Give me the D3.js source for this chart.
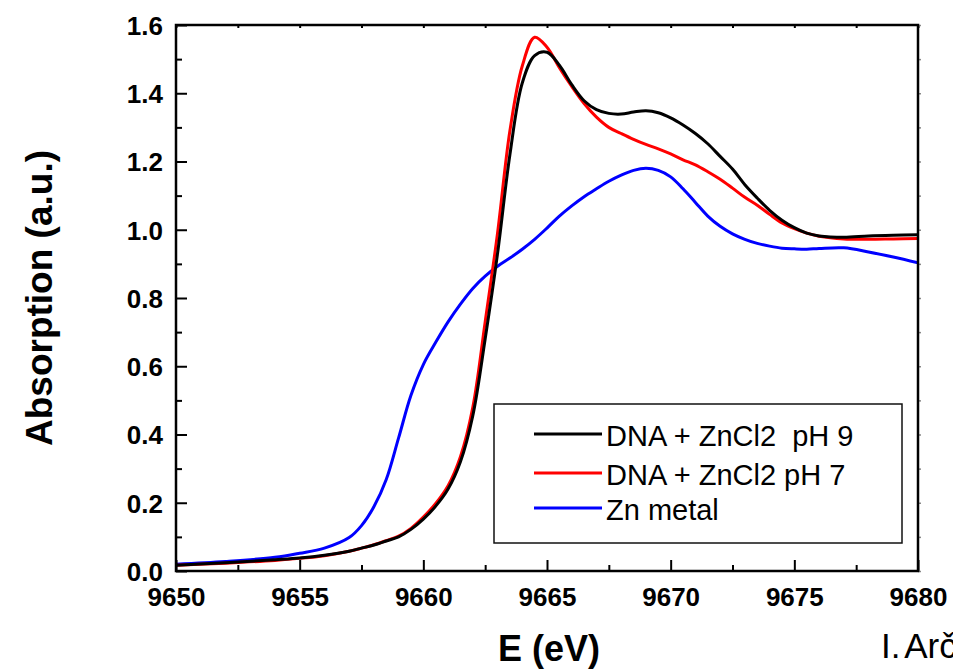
<!DOCTYPE html>
<html>
<head>
<meta charset="utf-8">
<script src="https://cdn.jsdelivr.net/npm/d3@7"></script>
<style>
  html, body { margin: 0; padding: 0; background: #fff; overflow: hidden; }
  svg { display: block; }
  text { font-family: "Liberation Sans", Arial, Helvetica, sans-serif; }
</style>
</head>
<body>
<svg id="chart" width="953" height="672"></svg>
<script>
// Zn K-edge XANES spectra
const energy = [9650, 9652, 9654, 9655, 9656, 9657, 9657.5, 9658, 9658.5, 9659, 9659.5,
  9660, 9660.5, 9661, 9661.5, 9662, 9662.5, 9663, 9663.5, 9664, 9664.5, 9665, 9665.5,
  9666, 9666.5, 9667, 9667.5, 9668, 9668.5, 9669, 9669.5, 9670, 9670.5, 9671, 9671.5,
  9672, 9672.5, 9673, 9673.5, 9674, 9674.5, 9675, 9675.5, 9676, 9677, 9678, 9679, 9680];

const dnaPH9 = [0.017, 0.024, 0.033, 0.038, 0.046, 0.058, 0.067, 0.076, 0.088, 0.100, 0.122,
  0.152, 0.190, 0.240, 0.320, 0.455, 0.680, 0.930, 1.220, 1.430, 1.510, 1.520, 1.482,
  1.425, 1.378, 1.352, 1.341, 1.339, 1.345, 1.349, 1.343, 1.328, 1.307, 1.282, 1.252,
  1.215, 1.178, 1.132, 1.093, 1.057, 1.028, 1.006, 0.990, 0.982, 0.978, 0.982, 0.984, 0.985];

const dnaPH7 = [0.017, 0.023, 0.031, 0.037, 0.045, 0.058, 0.067, 0.077, 0.089, 0.102, 0.125,
  0.158, 0.198, 0.250, 0.335, 0.480, 0.730, 0.990, 1.290, 1.480, 1.564, 1.535, 1.475,
  1.420, 1.370, 1.330, 1.300, 1.282, 1.265, 1.250, 1.237, 1.222, 1.205, 1.190, 1.170,
  1.148, 1.122, 1.095, 1.072, 1.045, 1.020, 1.003, 0.990, 0.981, 0.973, 0.972, 0.973, 0.974];

const znMetal = [0.020, 0.028, 0.040, 0.052, 0.067, 0.098, 0.133, 0.188, 0.268, 0.390, 0.515,
  0.605, 0.670, 0.730, 0.782, 0.828, 0.864, 0.893, 0.917, 0.943, 0.972, 1.005, 1.040,
  1.070, 1.097, 1.120, 1.142, 1.160, 1.174, 1.180, 1.174, 1.155, 1.120, 1.080, 1.040,
  1.010, 0.988, 0.972, 0.960, 0.952, 0.946, 0.944, 0.943, 0.945, 0.947, 0.935, 0.920, 0.903];

const seriesNames = ["DNA + ZnCl2  pH 9", "DNA + ZnCl2 pH 7", "Zn metal"];
const seriesColors = ["#000000", "#ff0000", "#0000ff"];

const xMajorTicks = [9650, 9655, 9660, 9665, 9670, 9675, 9680];
const xMinorTicks = [9652.5, 9657.5, 9662.5, 9667.5, 9672.5, 9677.5];
const yMajorTicks = [0.0, 0.2, 0.4, 0.6, 0.8, 1.0, 1.2, 1.4, 1.6];
const yMinorTicks = [0.1, 0.3, 0.5, 0.7, 0.9, 1.1, 1.3, 1.5];

const margin = { left: 176, right: 918, top: 25, bottom: 571 };

const svg = d3.select("#chart");
const x = d3.scaleLinear().domain([9650, 9680]).range([margin.left, margin.right]);
const y = d3.scaleLinear().domain([0, 1.6]).range([margin.bottom, margin.top]);

const seriesValues = [dnaPH9, dnaPH7, znMetal];

// clip to plotting area
svg.append("clipPath").attr("id", "plotClip")
  .append("rect")
  .attr("x", margin.left).attr("y", margin.top)
  .attr("width", margin.right - margin.left).attr("height", margin.bottom - margin.top);

const line = d3.line()
  .x(d => x(d[0]))
  .y(d => y(d[1]))
  .curve(d3.curveCatmullRom.alpha(0.5));

// draw Zn metal first, then pH 7, then pH 9 on top in the edge
const drawOrder = [2, 1, 0];
const curves = svg.append("g").attr("clip-path", "url(#plotClip)");
drawOrder.forEach(i => {
  curves.append("path")
    .datum(energy.map((e, k) => [e, seriesValues[i][k]]))
    .attr("fill", "none")
    .attr("stroke", seriesColors[i])
    .attr("stroke-width", 3)
    .attr("stroke-linejoin", "round")
    .attr("d", line);
});

// axes
const tickFont = { size: 26, weight: "bold" };

const xAxisG = svg.append("g").attr("transform", `translate(0,${margin.bottom})`);
xAxisG.call(d3.axisBottom(x).tickValues(xMajorTicks).tickSize(-11).tickSizeOuter(0)
  .tickFormat(d3.format("d")));
xAxisG.append("g").call(d3.axisBottom(x).tickValues(xMinorTicks).tickSize(-6).tickSizeOuter(0).tickFormat(""));
xAxisG.selectAll(".domain").remove();
xAxisG.selectAll("line").attr("stroke", "#000").attr("stroke-width", 2);
xAxisG.selectAll("text")
  .attr("y", 35).attr("dy", null)
  .attr("fill", "#000")
  .style("font-size", tickFont.size + "px")
  .style("font-weight", tickFont.weight)
  .style("font-family", '"Liberation Sans", Arial, sans-serif');

const yAxisG = svg.append("g").attr("transform", `translate(${margin.left},0)`);
yAxisG.call(d3.axisLeft(y).tickValues(yMajorTicks).tickSize(-11).tickSizeOuter(0)
  .tickFormat(d3.format(".1f")));
yAxisG.append("g").call(d3.axisLeft(y).tickValues(yMinorTicks).tickSize(-6).tickSizeOuter(0).tickFormat(""));
yAxisG.selectAll(".domain").remove();
yAxisG.selectAll("line").attr("stroke", "#000").attr("stroke-width", 2);
yAxisG.selectAll("text")
  .attr("x", -13).attr("dy", "0.36em")
  .attr("fill", "#000")
  .style("font-size", tickFont.size + "px")
  .style("font-weight", tickFont.weight)
  .style("font-family", '"Liberation Sans", Arial, sans-serif');

// top mirror ticks
const topG = svg.append("g").attr("transform", `translate(0,${margin.top})`);
topG.call(d3.axisTop(x).tickValues(xMajorTicks.concat(xMinorTicks)).tickSize(-3).tickSizeOuter(0).tickFormat(""));
topG.selectAll(".domain").remove();
topG.selectAll("line").attr("stroke", "#000").attr("stroke-width", 2);

// right mirror ticks
const rightG = svg.append("g").attr("transform", `translate(${margin.right},0)`);
rightG.call(d3.axisRight(y).tickValues(yMajorTicks.concat(yMinorTicks)).tickSize(3).tickSizeOuter(0).tickFormat(""));
rightG.selectAll(".domain").remove();
rightG.selectAll("line").attr("stroke", "#888").attr("stroke-width", 1.5);

// frame
svg.append("rect")
  .attr("x", margin.left).attr("y", margin.top)
  .attr("width", margin.right - margin.left).attr("height", margin.bottom - margin.top)
  .attr("fill", "none").attr("stroke", "#000").attr("stroke-width", 2.5);

// axis titles
svg.append("text")
  .attr("x", (margin.left + margin.right) / 2 + 2).attr("y", 661)
  .attr("text-anchor", "middle")
  .style("font-size", "36px").style("font-weight", "bold")
  .text("E (eV)");

svg.append("text")
  .attr("transform", `translate(52,${(margin.top + margin.bottom) / 2}) rotate(-90)`)
  .attr("text-anchor", "middle")
  .style("font-size", "37px").style("font-weight", "bold")
  .text("Absorption (a.u.)");

// legend
const legend = svg.append("g");
legend.append("rect")
  .attr("x", 494).attr("y", 404).attr("width", 408).attr("height", 139)
  .attr("fill", "#fff").attr("stroke", "#111").attr("stroke-width", 1.5);
const legendRows = [434, 473, 508];
seriesNames.forEach((name, i) => {
  legend.append("line")
    .attr("x1", 534).attr("x2", 602)
    .attr("y1", legendRows[i]).attr("y2", legendRows[i])
    .attr("stroke", seriesColors[i]).attr("stroke-width", 3);
  legend.append("text")
    .attr("x", 606).attr("y", legendRows[i] + 12)
    .style("font-size", "29px")
    .style("white-space", "pre")
    .attr("xml:space", "preserve")
    .text(name);
});

// author credit
svg.append("text")
  .attr("x", 881).attr("y", 658)
  .style("font-size", "35px")
  .style("word-spacing", "-4px")
  .text("I. Arčon");
</script>
</body>
</html>
